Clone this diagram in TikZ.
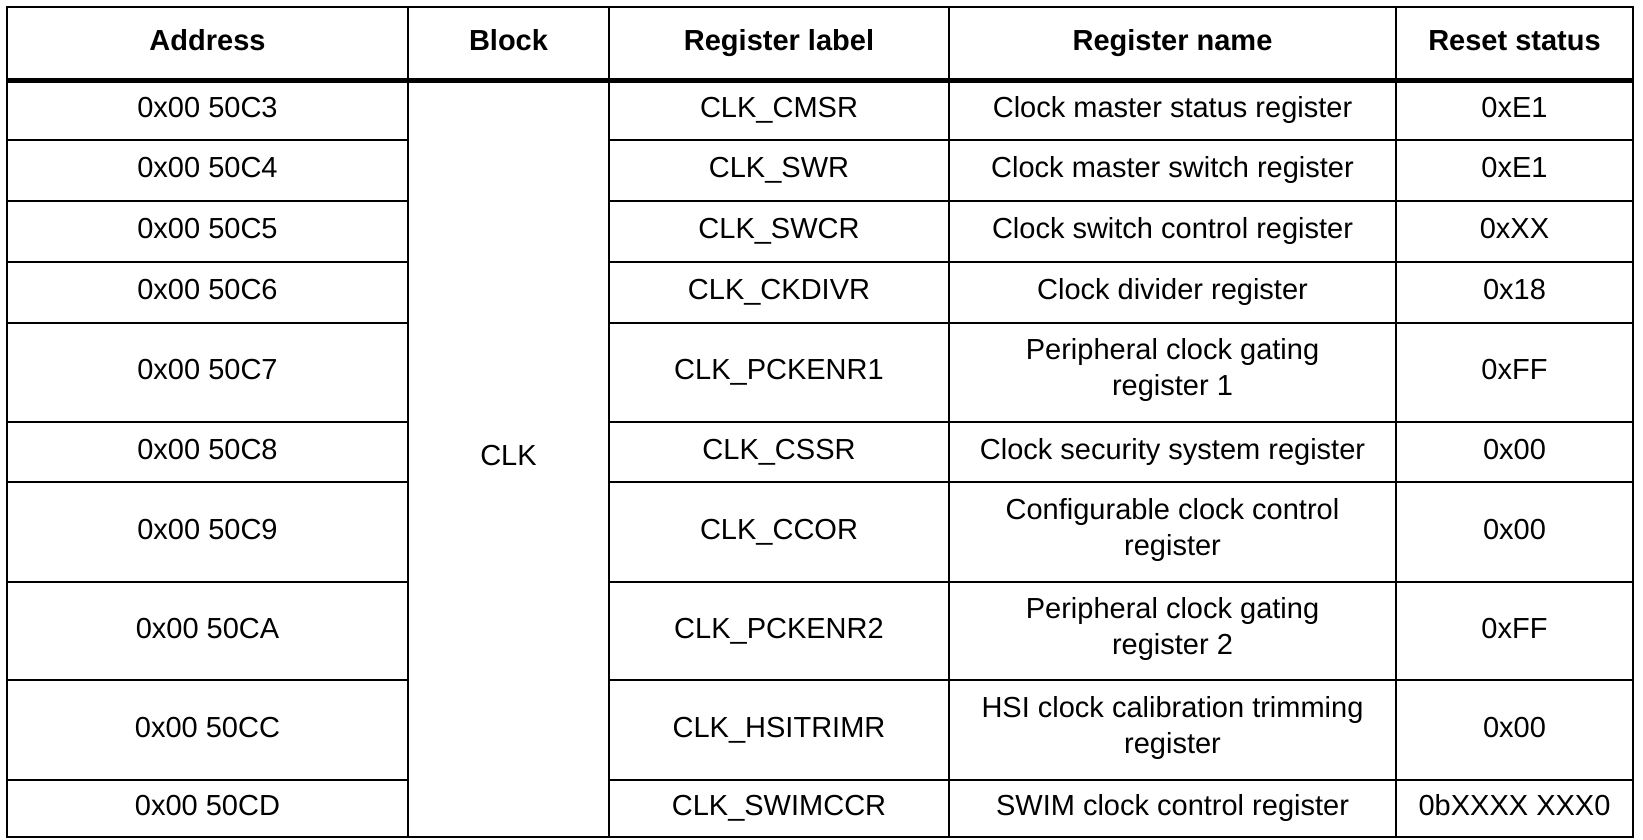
\documentclass[tikz,border=0pt]{standalone}
\usepackage{fontspec}
\setmainfont{Liberation Sans}
\begin{document}
\begin{tikzpicture}[x=1pt,y=-1pt,
  cell/.style={font=\fontsize{29}{36}\selectfont,align=center,inner sep=0,execute at begin node=\strut},
  head/.style={cell,font=\fontsize{29}{36}\selectfont\bfseries},
  grid/.style={line width=2.2pt}]
\useasboundingbox (0,0) rectangle (1643,839);
% borders
\draw[grid] (7,7) rectangle (1633,837);
\foreach \x in {408,609,949,1396} \draw[grid] (\x,7) -- (\x,837);
\draw[line width=5pt] (7,80) -- (1633,80);
\foreach \y in {140,201,262,323,422,482,582,680,780}{
  \draw[grid] (7,\y) -- (408,\y);
  \draw[grid] (609,\y) -- (1633,\y);
}
% header
\node[head] (h1) at (207.5,43) {Address};
\node[head] (h2) at (508.5,43) {Block};
\node[head] (h3) at (779,43) {Register label};
\node[head] (h4) at (1172.5,43) {Register name};
\node[head] (h5) at (1514.5,43) {Reset status};
\node[cell] (blk) at (508.5,458) {CLK};
\foreach \ya/\yb/\ad/\lb/\nm/\rs [count=\i] in {
 80/140/0x00 50C3/CLK\_CMSR/Clock master status register/0xE1,
 140/201/0x00 50C4/CLK\_SWR/Clock master switch register/0xE1,
 201/262/0x00 50C5/CLK\_SWCR/Clock switch control register/0xXX,
 262/323/0x00 50C6/CLK\_CKDIVR/Clock divider register/0x18,
 323/422/0x00 50C7/CLK\_PCKENR1/{Peripheral clock gating\\register 1}/0xFF,
 422/482/0x00 50C8/CLK\_CSSR/Clock security system register/0x00,
 482/582/0x00 50C9/CLK\_CCOR/{Configurable clock control\\register}/0x00,
 582/680/0x00 50CA/CLK\_PCKENR2/{Peripheral clock gating\\register 2}/0xFF,
 680/780/0x00 50CC/CLK\_HSITRIMR/{HSI clock calibration trimming\\register}/0x00,
 780/837/0x00 50CD/CLK\_SWIMCCR/SWIM clock control register/0bXXXX XXX0}{
  \node[cell] (a\i) at (207.5,{(\ya+\yb)/2}) {\ad};
  \node[cell] (l\i) at (779,{(\ya+\yb)/2}) {\lb};
  \node[cell] (n\i) at (1172.5,{(\ya+\yb)/2}) {\nm};
  \node[cell] (r\i) at (1514.5,{(\ya+\yb)/2}) {\rs};
}
\end{tikzpicture}
\end{document}
